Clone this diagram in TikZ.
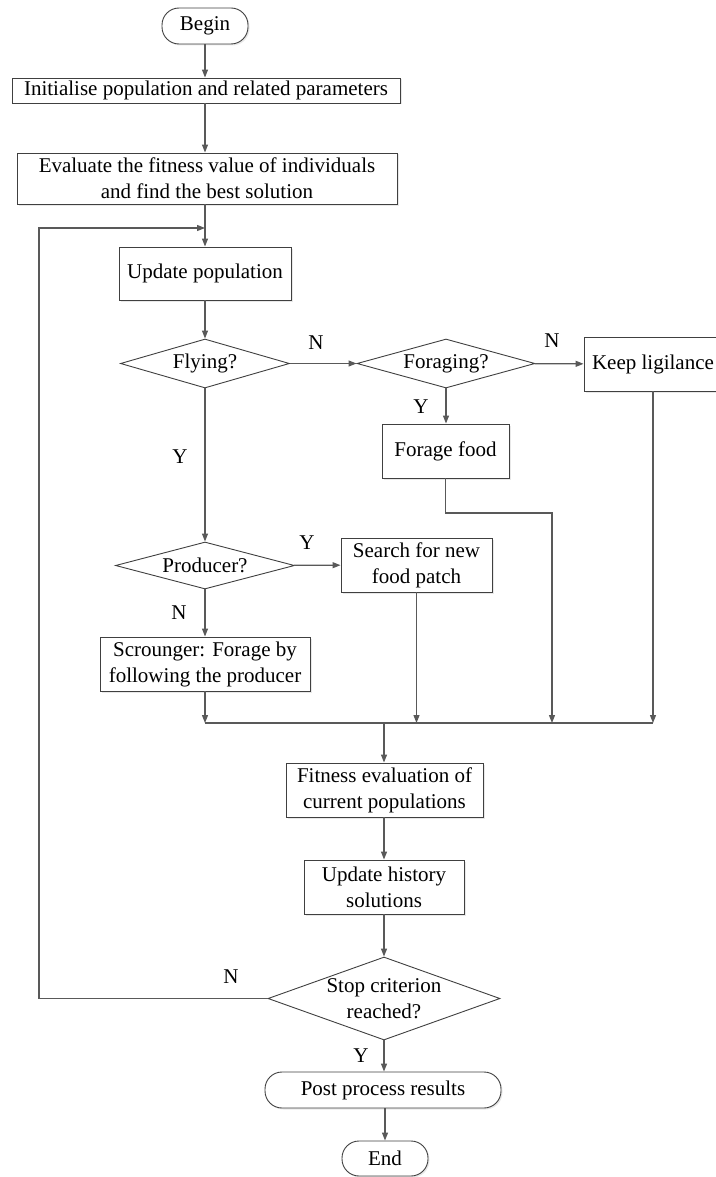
\documentclass[tikz,border=0pt]{standalone}
\usepackage{fontspec}
\setmainfont{Liberation Serif}
\usetikzlibrary{shapes.geometric,arrows.meta,shadows}

\begin{document}
\begin{tikzpicture}[x=1pt,y=-1pt,
  every node/.style={font=\fontsize{21}{26}\selectfont},
  box/.style={draw=black!75,line width=0.9pt,fill=white,inner sep=0pt,align=center,drop shadow={opacity=0.18,shadow xshift=1.5pt,shadow yshift=-1.5pt}},
  term/.style={box,rounded corners=17pt},
  decide/.style={draw=black!75,line width=0.9pt,fill=white,diamond,aspect=3.4,inner sep=0pt,align=center},
  arr/.style={draw=black!65,line width=1.2pt,-{Triangle[length=8pt,width=6pt]}},
  ln/.style={draw=black!65,line width=1.2pt},
  lbl/.style={inner sep=0pt}]
  \useasboundingbox (0,0) rectangle (715,1177);
  \node[term,minimum width=86pt,minimum height=36pt] (begin) at (205,26) {Begin};
  \node[box,minimum width=388pt,minimum height=25pt] (init) at (206,90.5) {Initialise population and related parameters};
  \node[box,minimum width=380pt,minimum height=51pt] (eval) at (207,178.5) {Evaluate the fitness value of individuals\\and find the best solution};
  \node[box,minimum width=172pt,minimum height=53pt] (upd) at (205,273.5) {Update population};
  \node[decide,minimum width=169pt,minimum height=49pt] (fly) at (205,363.5) {Flying?};
  \node[decide,minimum width=178pt,minimum height=49pt] (forg) at (446,363.5) {Foraging?};
  \node[box,minimum width=138pt,minimum height=54pt] (keep) at (653,364) {Keep ligilance};
  \node[box,minimum width=127pt,minimum height=54pt] (food) at (445.5,451) {Forage food};
  \node[decide,minimum width=179pt,minimum height=47pt] (prod) at (205,565.5) {Producer?};
  \node[box,minimum width=151pt,minimum height=54pt] (search) at (416.5,565) {Search for new\\food patch};
  \node[box,minimum width=210pt,minimum height=54pt] (scr) at (205,664) {Scrounger: Forage by\\following the producer};
  \node[box,minimum width=197pt,minimum height=54pt] (fit) at (384.5,790) {Fitness evaluation of\\current populations};
  \node[box,minimum width=160pt,minimum height=54pt] (hist) at (384,887) {Update history\\solutions};
  \node[decide,inner sep=-3pt,minimum width=232pt,minimum height=83pt] (stop) at (384,998.5) {Stop criterion\\reached?};
  \node[term,minimum width=236pt,minimum height=36pt] (post) at (383,1090) {Post process results};
  \node[term,minimum width=86pt,minimum height=35pt] (end) at (385,1158.5) {End};
  \node[lbl] (nfly) at (316,343) {N}; \node[lbl] (nforg) at (552,341) {N}; \node[lbl] (yforg) at (421,407) {Y};
  \node[lbl] (yfly) at (180,457) {Y}; \node[lbl] (yprod) at (307,543) {Y}; \node[lbl] (nprod) at (179,613) {N};
  \node[lbl] (nstop) at (231,977) {N}; \node[lbl] (ystop) at (361,1056) {Y};
  \coordinate (loopc) at (39,228); \coordinate (fd) at (552,513); \coordinate (mg) at (384,723);
  \draw[arr] (begin.south) -- (begin.south |- init.north); \draw[arr] (upd.north |- init.south) -- (upd.north |- eval.north);
  \draw[arr] (upd.north |- eval.south) -- (upd.north); \draw[arr] (upd) -- (fly);
  \draw[arr] (fly) -- (forg); \draw[arr] (forg) -- (keep); \draw[arr] (forg) -- (forg.south |- food.north);
  \draw[arr] (fly) -- (prod); \draw[arr] (prod) -- (search); \draw[arr] (prod) -- (scr);
  \draw[arr] (scr) -- (scr |- mg); \draw[arr] (search) -- (search |- mg); \draw[arr] (food.south) |- (fd) -- (fd |- mg); \draw[arr] (keep) -- (keep |- mg);
  \draw[ln] (scr |- mg) -- (keep |- mg); \draw[arr] (mg) -- (mg |- fit.north);
  \draw[arr] (fit.south -| hist.north) -- (hist); \draw[arr] (hist) -- (stop); \draw[arr] (stop) -- (stop.south |- post.north); \draw[arr] (post.south -| end.north) -- (end);
  \draw[arr] (stop.west) -| (loopc) -- (upd.north |- loopc);
\end{tikzpicture}
\end{document}
